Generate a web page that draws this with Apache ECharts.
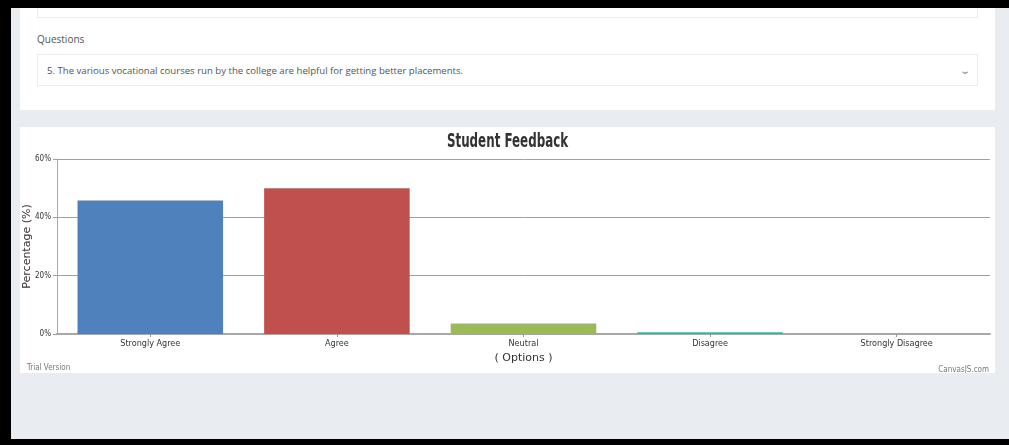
<!DOCTYPE html>
<html>
<head>
<meta charset="utf-8">
<script src="https://cdn.jsdelivr.net/npm/echarts@6/dist/echarts.min.js"></script>
<style>
  html, body { margin:0; padding:0; }
  body { width:1009px; height:445px; overflow:hidden; position:relative; background:#e9ecf1; font-family:"Open Sans", "DejaVu Sans", sans-serif; }
  .blk { position:absolute; background:#000; }
  .panel { position:absolute; background:#fff; overflow:hidden; }
  .box { position:absolute; border:1px solid #ebebeb; box-sizing:border-box; background:#fff; }
  .lbl { position:absolute; font-size:10px; color:#555; }
  .sel-text { position:absolute; left:9px; top:9px; font-size:9.6px; color:#555; white-space:nowrap; }
  .chev { position:absolute; right:8px; top:8px; font-size:10px; color:#888; transform:scaleX(1.4); }
  #chart { position:absolute; left:20px; top:127px; width:975px; height:246px; background:#fff; }
</style>
</head>
<body>
<div class="panel" style="left:20px;top:8px;width:975px;height:102px;">
  <div class="box" style="left:17px;top:-20px;width:941px;height:30px;"></div>
  <div class="lbl" style="left:17px;top:24px;">Questions</div>
  <div class="box" style="left:17px;top:46px;width:941px;height:32px;">
    <div class="sel-text">5. The various vocational courses run by the college are helpful for getting better placements.</div>
    <div class="chev">&#8964;</div>
  </div>
</div>
<div id="chart"></div>
<div class="blk" style="left:0;top:0;width:1009px;height:8px;"></div>
<div class="blk" style="left:0;top:0;width:11px;height:445px;"></div>
<div class="blk" style="left:0;top:439px;width:1009px;height:6px;"></div>
<script>
const categories = ["Strongly Agree", "Agree", "Neutral", "Disagree", "Strongly Disagree"];
const percentValues = [45.8, 50.0, 3.6, 0.6, 0];
const barColors = ["#4F81BC", "#C0504E", "#9BBB58", "#23BFAA", "#8064A1"];
const yTickValues = [0, 20, 40, 60];

const chart = echarts.init(document.getElementById('chart'), null, { renderer: 'canvas' });
const narrow = '"DejaVu Sans Condensed", "Open Sans", sans-serif';
chart.setOption({
  animation: false,
  backgroundColor: '#fff',
  title: [
    { text: 'Trial Version', left: 2, top: 232,
      textStyle: { fontFamily: narrow, fontWeight: 'normal', fontSize: 8, color: '#777' } },
    { text: 'CanvasJS.com', right: 1, top: 234,
      textStyle: { fontFamily: narrow, fontWeight: 'normal', fontSize: 8, color: '#777' } }
  ],
  graphic: [{
    type: 'text',
    x: 487.5, y: 15,
    scaleX: 0.66,
    style: {
      text: 'Student Feedback',
      font: 'bold 20px "DejaVu Sans Condensed", "DejaVu Sans", sans-serif',
      fill: '#333',
      align: 'center',
      verticalAlign: 'middle'
    }
  }],
  grid: { left: 37, right: 5, top: 32, bottom: 39, containLabel: false, outerBoundsMode: 'none' },
  xAxis: {
    type: 'category',
    data: categories,
    name: '( Options )',
    nameLocation: 'middle',
    nameGap: 19,
    nameMoveOverlap: false,
    nameTextStyle: { fontFamily: '"DejaVu Sans", sans-serif', fontSize: 11, color: '#333' },
    axisLine: { lineStyle: { color: '#a8a8a8', width: 2 } },
    axisTick: { show: true, alignWithLabel: true, length: 3, lineStyle: { color: '#999' } },
    axisLabel: { fontFamily: narrow, fontSize: 9, color: '#333', margin: 5 }
  },
  yAxis: {
    type: 'value',
    min: yTickValues[0],
    max: yTickValues[yTickValues.length - 1],
    interval: 20,
    name: 'Percentage (%)',
    nameLocation: 'middle',
    nameRotate: 90,
    nameGap: 24,
    nameMoveOverlap: false,
    nameTextStyle: { fontFamily: '"DejaVu Sans", sans-serif', fontSize: 11, color: '#333' },
    axisLine: { show: true, lineStyle: { color: '#a8a8a8', width: 1 } },
    axisTick: { show: true, length: 4, lineStyle: { color: '#a0a0a0' } },
    axisLabel: { formatter: '{value}%', fontFamily: narrow, fontSize: 8, color: '#333', margin: 6 },
    splitLine: { show: true, lineStyle: { color: '#a0a0a0', width: 1 } }
  },
  series: [{
    type: 'bar',
    data: percentValues.map((v, i) => ({ value: v, itemStyle: { color: barColors[i] } })),
    barCategoryGap: '22%'
  }]
});
</script>
</body>
</html>
